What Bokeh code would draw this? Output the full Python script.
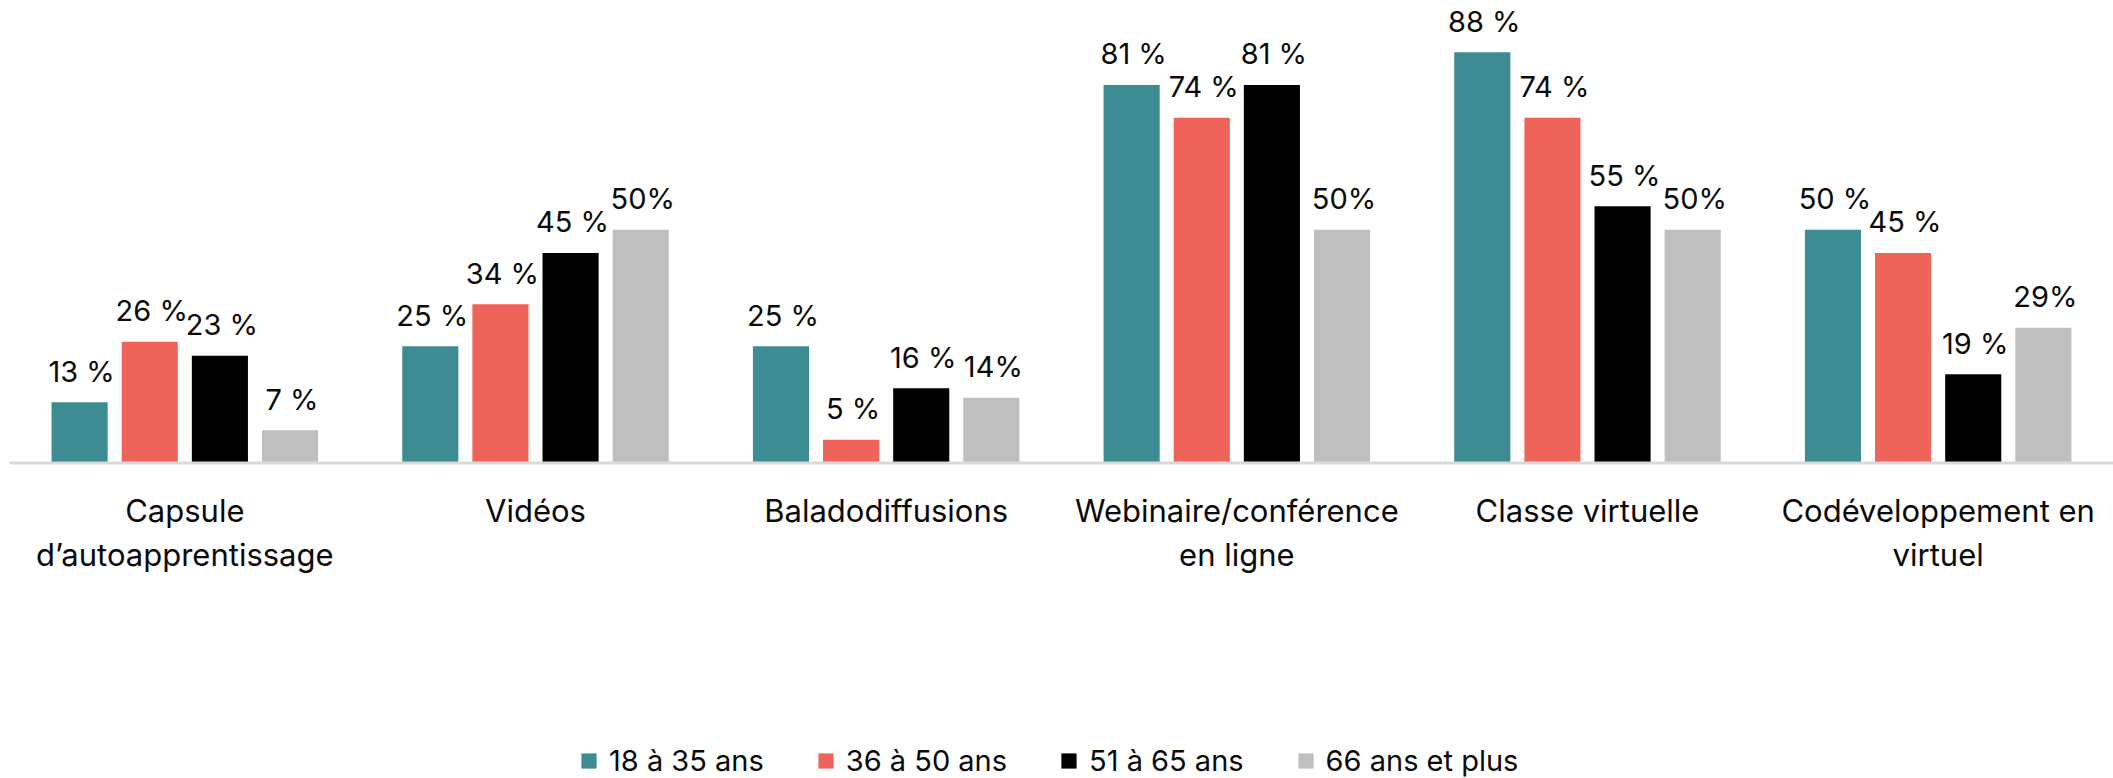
from bokeh.plotting import figure
from bokeh.models import ColumnDataSource, FactorRange, Range1d, Span, Legend, LegendItem
from bokeh.transform import dodge
from bokeh.core.properties import value
from bokeh.embed import file_html
from bokeh.resources import INLINE

categories = ["Capsule\nd\u2019autoapprentissage", "Vidéos", "Baladodiffusions",
              "Webinaire/conférence\nen ligne", "Classe virtuelle", "Codéveloppement en\nvirtuel"]
series = ["18 à 35 ans", "36 à 50 ans", "51 à 65 ans", "66 ans et plus"]
v_18_35 = [13, 25, 25, 81, 88, 50]
v_36_50 = [26, 34, 5, 74, 74, 45]
v_51_65 = [23, 45, 16, 81, 55, 19]
v_66_plus = [7, 50, 14, 50, 50, 29]
lab_18_35 = ["13 %", "25 %", "25 %", "81 %", "88 %", "50 %"]
lab_36_50 = ["26 %", "34 %", "5 %", "74 %", "74 %", "45 %"]
lab_51_65 = ["23 %", "45 %", "16 %", "81 %", "55 %", "19 %"]
lab_66_plus = ["7 %", "50%", "14%", "50%", "50%", "29%"]
colors = ["#3D8C93", "#EE645A", "#000000", "#BFBFBF"]

FONT = "Inter"
TXT = "#0a0a0a"

p = figure(x_range=FactorRange(*categories), y_range=Range1d(-67.6, 99.1),
           width=2113, height=778, output_backend="svg", toolbar_location=None,
           x_axis_location=None, y_axis_location=None, min_border=0,
           min_border_left=9, outline_line_color=None)
p.grid.visible = False

p.add_layout(Span(location=0, dimension="width", line_color="#D9D9D9", line_width=3))

offsets = [-0.3, -0.1, 0.1, 0.3]
vals = [v_18_35, v_36_50, v_51_65, v_66_plus]
labs = [lab_18_35, lab_36_50, lab_51_65, lab_66_plus]
items = []
for name, off, v, lb, c in zip(series, offsets, vals, labs, colors):
    src = ColumnDataSource(dict(cat=categories, val=v, lab=lb))
    r = p.vbar(x=dodge("cat", off, range=p.x_range), top="val", width=0.16,
               fill_color=c, line_color=None, source=src)
    p.text(x=dodge("cat", off, range=p.x_range), y="val", text="lab", source=src,
           y_offset=-31, x_offset=2, text_align="center", text_baseline="middle",
           text_font=value(FONT), text_font_size="29px", text_color=TXT)
    items.append(LegendItem(label=name, renderers=[r]))

csrc = ColumnDataSource(dict(cat=categories))
p.text(x="cat", y=0, text="cat", source=csrc, y_offset=29, text_align="center",
       text_baseline="top", text_line_height=1.18, text_font=value(FONT),
       text_font_size="31px", text_color=TXT)

legend = Legend(items=items, orientation="horizontal", location=(570, 0),
                label_text_font=FONT, label_text_font_size="29px", label_text_color=TXT,
                glyph_width=19, glyph_height=19, label_standoff=11, spacing=52,
                padding=0, margin=0, border_line_color=None, background_fill_alpha=0)
p.add_layout(legend)

open("out.html", "w").write(file_html(p, INLINE))
